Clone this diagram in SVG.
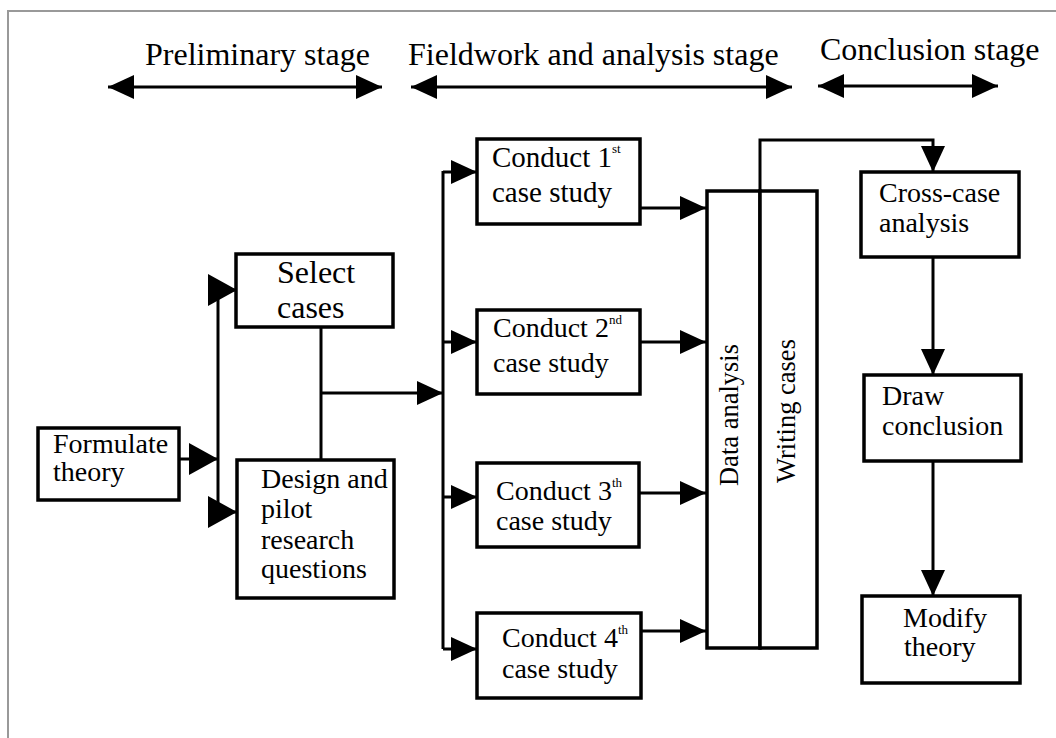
<svg xmlns="http://www.w3.org/2000/svg" width="1056" height="738" viewBox="0 0 1056 738">
<style>
text{font-family:'Liberation Serif','Tinos','Times New Roman','DejaVu Serif',serif;fill:#000}
.stage{font-size:32px}
.lbl{font-size:28px}
.sup{font-size:13px}
.box{fill:#fff;stroke:#000;stroke-width:3.5}
.ln{fill:none;stroke:#000;stroke-width:3}
</style>
<defs>
<marker id="am" markerUnits="userSpaceOnUse" viewBox="0 0 26 24" refX="26" refY="12" markerWidth="26" markerHeight="24" orient="auto-start-reverse"><path d="M0,0 L26,12 L0,24 z" fill="#000"/></marker>
<marker id="al" markerUnits="userSpaceOnUse" viewBox="0 0 29 32" refX="29" refY="16" markerWidth="29" markerHeight="32" orient="auto"><path d="M0,0 L29,16 L0,32 z" fill="#000"/></marker>
</defs>
<rect width="1056" height="738" fill="#fff"/>
<path d="M8,738 L8,11 L1056,11" fill="none" stroke="#999" stroke-width="2"/>

<g id="stages" font-family="Liberation Serif, DejaVu Serif, serif">
<text class="stage" x="145" y="65">Preliminary stage</text>
<text class="stage" x="408" y="65">Fieldwork and analysis stage</text>
<text class="stage" x="820" y="60">Conclusion stage</text>
<path class="ln" d="M108,87 L382,87" marker-start="url(#am)" marker-end="url(#am)"/>
<path class="ln" d="M411,87 L792,87" marker-start="url(#am)" marker-end="url(#am)"/>
<path class="ln" d="M818,86 L998,86" marker-start="url(#am)" marker-end="url(#am)"/>
</g>

<g id="connectors">
<path class="ln" d="M179,459 L218,459" marker-end="url(#al)"/>
<path class="ln" d="M218,290 L218,512"/>
<path class="ln" d="M218,290 L237,290" marker-end="url(#al)"/>
<path class="ln" d="M218,512 L237,512" marker-end="url(#al)"/>
<path class="ln" d="M321,327 L321,460"/>
<path class="ln" d="M321,393 L443,393" marker-end="url(#am)"/>
<path class="ln" d="M443,171 L443,649"/>
<path class="ln" d="M443,172 L477,172" marker-end="url(#am)"/>
<path class="ln" d="M443,342 L477,342" marker-end="url(#am)"/>
<path class="ln" d="M443,497 L477,497" marker-end="url(#am)"/>
<path class="ln" d="M443,649 L477,649" marker-end="url(#am)"/>
<path class="ln" d="M640,208 L706,208" marker-end="url(#am)"/>
<path class="ln" d="M640,342 L706,342" marker-end="url(#am)"/>
<path class="ln" d="M640,493 L706,493" marker-end="url(#am)"/>
<path class="ln" d="M640,631 L706,631" marker-end="url(#am)"/>
<path class="ln" d="M760,191 L760,140 L933,140 L933,172" marker-end="url(#am)"/>
<path class="ln" d="M933,257 L933,375" marker-end="url(#am)"/>
<path class="ln" d="M933,461 L933,596" marker-end="url(#am)"/>
</g>

<g id="formulate">
<rect class="box" x="38" y="428" width="141" height="72"/>
<text class="lbl" x="53" y="453">Formulate</text>
<text class="lbl" x="53" y="481">theory</text>
</g>
<g id="select">
<rect class="box" x="236" y="254" width="157" height="73"/>
<text x="277" y="283" style="font-size:32px">Select</text>
<text x="277" y="318" style="font-size:32px">cases</text>
</g>
<g id="design">
<rect class="box" x="237" y="460" width="157" height="138"/>
<text class="lbl" x="261" y="488">Design and</text>
<text class="lbl" x="261" y="518">pilot</text>
<text class="lbl" x="261" y="549">research</text>
<text class="lbl" x="261" y="578">questions</text>
</g>
<g id="case1">
<rect class="box" x="477" y="139" width="163" height="85"/>
<text x="492" y="167" style="font-size:29px">Conduct 1<tspan class="sup" dy="-14">st</tspan></text>
<text x="492" y="202" style="font-size:29px">case study</text>
</g>
<g id="case2">
<rect class="box" x="477" y="310" width="163" height="84"/>
<text class="lbl" x="493" y="337">Conduct 2<tspan class="sup" dy="-13">nd</tspan></text>
<text class="lbl" x="493" y="372">case study</text>
</g>
<g id="case3">
<rect class="box" x="477" y="463" width="162" height="84"/>
<text class="lbl" x="496" y="500">Conduct 3<tspan class="sup" dy="-13">th</tspan></text>
<text class="lbl" x="496" y="530">case study</text>
</g>
<g id="case4">
<rect class="box" x="477" y="613" width="164" height="85"/>
<text class="lbl" x="502" y="647">Conduct 4<tspan class="sup" dy="-13">th</tspan></text>
<text class="lbl" x="502" y="678">case study</text>
</g>
<g id="data-analysis">
<rect class="box" x="707" y="191" width="53" height="457"/>
<text transform="translate(738,415) rotate(-90)" text-anchor="middle" style="font-size:26.5px">Data analysis</text>
</g>
<g id="writing-cases">
<rect class="box" x="760" y="191" width="57" height="457"/>
<text transform="translate(795,411) rotate(-90)" text-anchor="middle" style="font-size:26.5px">Writing cases</text>
</g>
<g id="cross-case">
<rect class="box" x="861" y="172" width="158" height="85"/>
<text class="lbl" x="879" y="202">Cross-case</text>
<text class="lbl" x="879" y="232">analysis</text>
</g>
<g id="draw-conclusion">
<rect class="box" x="864" y="375" width="157" height="86"/>
<text class="lbl" x="882" y="405">Draw</text>
<text class="lbl" x="882" y="435">conclusion</text>
</g>
<g id="modify-theory">
<rect class="box" x="862" y="596" width="158" height="87"/>
<text class="lbl" x="903" y="627">Modify</text>
<text class="lbl" x="904" y="656">theory</text>
</g>
</svg>
